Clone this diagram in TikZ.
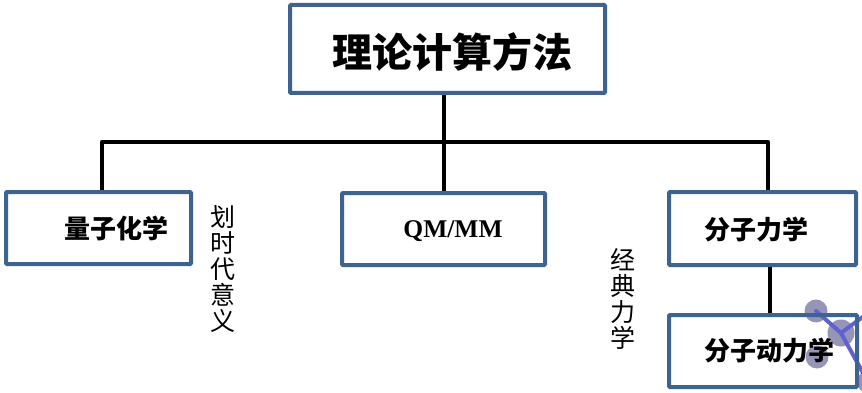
\documentclass[tikz,border=0pt]{standalone}
\usepackage{fontspec}
\newfontfamily\cjk{Noto Sans CJK SC}
\newfontfamily\timesbold[BoldFont={Liberation Serif Bold}]{Liberation Serif}
\usetikzlibrary{calc}
\definecolor{boxblue}{HTML}{3F6390}
\definecolor{atomgrey}{HTML}{8183AA}
\definecolor{bondblue}{HTML}{5F62D0}
\tikzset{
  x=1pt,y=-1pt,
  boxed/.style={draw=boxblue,line width=4pt,rounded corners=1pt,inner sep=0pt,anchor=north west},
  link/.style={draw=black,line width=4.2pt,line join=round},
  caption/.style={font=\cjk\bfseries,inner sep=0pt,text=black},
  sidenote/.style={font=\cjk\fontsize{25}{26}\selectfont,inner sep=0pt,align=center,text=black},
  atom/.style={circle,inner sep=0pt,fill=atomgrey,fill opacity=.85},
  bond/.style={draw=bondblue,line width=4pt,line cap=round}
}
\begin{document}
\begin{tikzpicture}
\useasboundingbox (0,0) rectangle (862,393);
% molecule sitting behind the last box
\node[atom,minimum size=23pt] (a1) at (816,311) {};
\node[atom,minimum size=27pt] (a2) at (841,333) {};
\node[atom,minimum size=23pt] (a3) at (817,357) {};
\node[atom,minimum size=22pt] (a4) at (868,382) {};
\coordinate (a5) at (864,316);
\draw[bond] (a1.center) -- (a2.center);
\draw[bond] (a2.center) -- (a5);
\draw[bond] (a2.center) -- (a4.center);
% boxes
\node[boxed,minimum width=315pt,minimum height=88pt] (top) at (288,3) {};
\node[boxed,minimum width=185pt,minimum height=72pt] (qc) at (4,190) {};
\node[boxed,minimum width=203pt,minimum height=72pt] (qmmm) at (340,191) {};
\node[boxed,minimum width=187pt,minimum height=73pt] (mm) at (667,190) {};
\node[boxed,minimum width=188pt,minimum height=72pt] (md) at (667,313) {};
% box captions
\node[caption,font=\cjk\bfseries\fontsize{40}{40}\selectfont] (ttop) at (452,52) {理论计算方法};
\node[caption,font=\cjk\bfseries\fontsize{26}{26}\selectfont] (tqc) at (116,228) {量子化学};
\node[caption,font=\timesbold\bfseries\fontsize{25.5}{26}\selectfont] (tqm) at (453,231) {QM/MM};
\node[caption,font=\cjk\bfseries\fontsize{26}{26}\selectfont] (tmm) at (756,230) {分子力学};
\node[caption,font=\cjk\bfseries\fontsize{26}{26}\selectfont] (tmd) at (769.5,351) {分子动力学};
% side notes
\node[sidenote] (n1) at (223,269) {划\\时\\代\\意\\义};
\node[sidenote] (n2) at (623,298.5) {经\\典\\力\\学};
% tree connectors
\coordinate (busL) at (102,142);
\coordinate (busM) at (444,142);
\coordinate (busR) at (768,142);
\draw[link] (qc.north -| busL) -- (busL) -- (busR) -- (mm.north -| busR);
\draw[link] (top.south -| busM) -- (qmmm.north -| busM);
\draw[link] (mm.south -| 770,0) -- (md.north -| 770,0);
\end{tikzpicture}
\end{document}
